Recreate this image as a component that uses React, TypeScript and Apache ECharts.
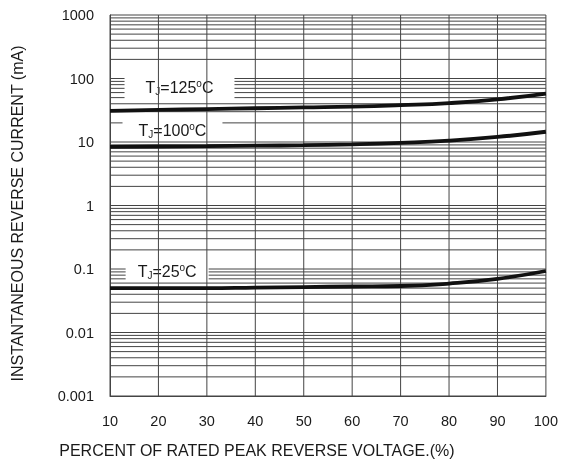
import React, { useEffect, useRef } from "react";
import * as echarts from "echarts";

const xValues = [10, 20, 30, 40, 50, 60, 70, 80, 90, 100];
const tj125 = [31, 32, 33, 34, 35, 36, 38, 41, 47, 58];
const tj100 = [8.4, 8.5, 8.6, 8.75, 8.9, 9.2, 9.7, 10.5, 12, 14.5];
const tj25 = [0.05, 0.05, 0.05, 0.051, 0.052, 0.053, 0.054, 0.059, 0.07, 0.093];
const yTickLabels = ["0.001", "0.01", "0.1", "1", "10", "100", "1000"];
const xTickLabels = ["10", "20", "30", "40", "50", "60", "70", "80", "90", "100"];

const curveLabels = [
  { temp: "125", at: [24.35, 70.9], padH: 21 },
  { temp: "100", at: [22.9, 15.45], padH: 16 },
  { temp: "25", at: [21.8, 0.093], padH: 12 },
];

const FONT = "'Liberation Sans', Arial, sans-serif";
const GRID_COLOR = "#444444";

function logGridValues(): number[] {
  const out: number[] = [];
  for (let k = -3; k <= 2; k++) {
    for (let m = 1; m <= 9; m++) out.push(m * Math.pow(10, k));
  }
  out.push(1000);
  return out;
}

export default function App() {
  const ref = useRef<HTMLDivElement>(null);
  useEffect(() => {
    if (!ref.current) return;
    const chart = echarts.init(ref.current, null, { renderer: "svg" });
    const curve = (vals: number[], name: string) => ({
      type: "line",
      name,
      data: xValues.map((x, i) => [x, vals[i]]),
      smooth: true,
      showSymbol: false,
      symbol: "none",
      z: 8,
      lineStyle: { color: "#111", width: 3.8 },
      emphasis: { disabled: true },
      silent: true,
    });
    const hGrid = (params: any, api: any) => {
      const cs = params.coordSys;
      const p = api.coord([10, api.value(1)]);
      return {
        type: "line",
        shape: { x1: cs.x, y1: p[1], x2: cs.x + cs.width, y2: p[1] },
        style: { stroke: GRID_COLOR, lineWidth: 1 },
        silent: true,
      };
    };
    const vGrid = (params: any, api: any) => {
      const cs = params.coordSys;
      const p = api.coord([api.value(0), 1]);
      return {
        type: "line",
        shape: { x1: p[0], y1: cs.y, x2: p[0], y2: cs.y + cs.height },
        style: { stroke: GRID_COLOR, lineWidth: 1 },
        silent: true,
      };
    };
    const labelItem = (params: any, api: any) => {
      const c = curveLabels[params.dataIndex];
      const p = api.coord([api.value(0), api.value(1)]);
      return {
        type: "text",
        x: p[0],
        y: p[1],
        silent: true,
        style: {
          text: `{a|T}{s|J}{a|=${c.temp}}{p|o}{a|C}`,
          align: "center",
          verticalAlign: "middle",
          backgroundColor: "#ffffff",
          padding: [2, c.padH, 2, c.padH],
          rich: {
            a: { fontSize: 16, fill: "#1a1a1a", fontFamily: FONT, lineHeight: 18 },
            s: { fontSize: 10, fill: "#1a1a1a", fontFamily: FONT, lineHeight: 18, verticalAlign: "bottom", padding: [6, 0, 0, 0] },
            p: { fontSize: 10, fill: "#1a1a1a", fontFamily: FONT, lineHeight: 18, verticalAlign: "top", padding: [0, 0, 6, 0] },
          },
        },
      };
    };
    chart.setOption({
      animation: false,
      grid: { left: 110, right: 12, top: 15, bottom: 70 },
      xAxis: {
        type: "value",
        min: 10,
        max: 100,
        interval: 10,
        axisLine: { show: true, lineStyle: { color: GRID_COLOR, width: 1 } },
        axisTick: { show: false },
        splitLine: { show: false },
        axisLabel: {
          margin: 17,
          fontSize: 14.5,
          color: "#1a1a1a",
          fontFamily: FONT,
          formatter: (v: number) => xTickLabels[Math.round((v - 10) / 10)] ?? "",
        },
        name: "PERCENT OF RATED PEAK REVERSE VOLTAGE.(%)",
        nameLocation: "middle",
        nameGap: 46,
        nameTextStyle: {
          fontSize: 16,
          color: "#1a1a1a",
          fontFamily: FONT,
          padding: [0, 142, 0, 0],
        },
      },
      yAxis: {
        type: "log",
        logBase: 10,
        min: 0.001,
        max: 1000,
        axisLine: { show: true, lineStyle: { color: GRID_COLOR, width: 1 } },
        axisTick: { show: false },
        splitLine: { show: false },
        minorSplitLine: { show: false },
        axisLabel: {
          margin: 16,
          fontSize: 14.5,
          color: "#1a1a1a",
          fontFamily: FONT,
          formatter: (v: number) => {
            const idx = Math.round(Math.log10(v)) + 3;
            return yTickLabels[idx] ?? "";
          },
        },
        name: "INSTANTANEOUS REVERSE CURRENT (mA)",
        nameLocation: "middle",
        nameGap: 85,
        nameTextStyle: {
          fontSize: 16,
          color: "#1a1a1a",
          fontFamily: FONT,
          padding: [0, 16, 0, 0],
        },
      },
      series: [
        {
          type: "custom",
          z: 1,
          silent: true,
          clip: false,
          renderItem: hGrid,
          data: logGridValues().map((v) => [10, v]),
        },
        {
          type: "custom",
          z: 3,
          silent: true,
          clip: false,
          renderItem: labelItem,
          data: curveLabels.map((c) => c.at),
        },
        {
          type: "custom",
          z: 4,
          silent: true,
          clip: false,
          renderItem: vGrid,
          data: xValues.map((v) => [v, 1]),
        },
        curve(tj125, "TJ=125°C"),
        curve(tj100, "TJ=100°C"),
        curve(tj25, "TJ=25°C"),
      ],
    });
    return () => chart.dispose();
  }, []);
  return (
    <div
      ref={ref}
      style={{ position: "fixed", left: 0, top: 0, width: 561, height: 466 }}
    />
  );
}
